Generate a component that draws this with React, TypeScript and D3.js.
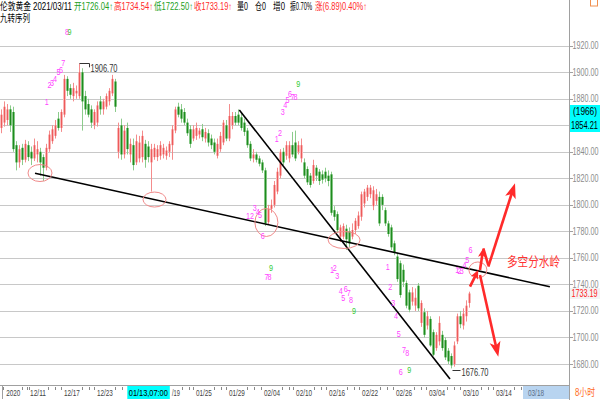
import React from "react";
import * as d3 from "d3";

// ---------- data ----------
// candles: [open, high, low, close] (8-hour bars)
const seg1: [number, number, number, number][] = [
  [1858,1872,1854,1868],[1862,1878,1859,1874],[1864,1876,1860,1872],[1872,1875,1855,1860],
  [1870,1874,1840,1842],[1845,1848,1826,1832],[1832,1845,1828,1842],[1843,1846,1830,1834],
  [1834,1849,1832,1846],[1845,1848,1833,1836],[1840,1844,1830,1835],[1835,1850,1833,1845],
  [1838,1848,1832,1842],[1840,1843,1822,1832],[1836,1838,1818,1828],[1828,1846,1826,1843],
  [1842,1856,1840,1853],[1848,1860,1846,1857],[1852,1864,1850,1860],[1865,1870,1856,1858],
  [1858,1872,1855,1870],[1868,1898,1866,1895],[1895,1897,1882,1886],[1888,1891,1880,1883],
  [1882,1892,1878,1888],[1884,1890,1880,1886],[1882,1906.7,1880,1900],[1900,1903,1856,1878],
  [1882,1886,1868,1872],[1876,1880,1866,1868],[1872,1875,1858,1862],[1860,1872,1857,1870],
  [1862,1878,1859,1875],[1878,1882,1868,1872],[1872,1880,1868,1878],[1874,1884,1872,1882],
  [1878,1888,1875,1886],[1884,1898,1882,1895],[1893,1895,1870,1874],[1840,1862,1835,1858],
  [1860,1865,1834,1838],[1838,1860,1835,1856],[1858,1862,1838,1842],[1838,1850,1832,1846],
  [1845,1850,1826,1830],[1832,1853,1830,1848],[1835,1852,1832,1847],[1836,1856,1832,1852],
  [1846,1849,1828,1834],[1844,1848,1832,1836],[1832,1846,1810,1842],[1836,1846,1834,1843],
];
const seg2: [number, number, number, number][] = [
  [1836,1845,1833,1842],[1837,1848,1834,1845],[1838,1846,1835,1843],[1837,1844,1834,1841],
  [1840,1848,1836,1846],[1845,1860,1834,1857],[1856,1874,1854,1872],[1874,1877,1866,1868],
  [1872,1876,1862,1865],[1870,1873,1860,1862],[1862,1865,1852,1854],[1857,1860,1843,1846],
  [1850,1860,1848,1857],[1852,1862,1849,1858],[1853,1858,1850,1856],[1857,1861,1848,1851],
  [1850,1858,1847,1855],[1854,1857,1844,1847],[1850,1853,1842,1845],[1847,1850,1838,1840],
  [1837,1850,1835,1846],[1842,1855,1840,1852],[1847,1864,1845,1862],[1860,1864,1848,1850],
  [1850,1876,1848,1867],[1860,1870,1857,1867],[1867,1870,1860,1862],[1868,1872,1860,1862],
  [1866,1869,1856,1858],[1862,1865,1852,1855],[1856,1858,1843,1845],[1846,1848,1833,1835],
  [1835,1842,1832,1838],[1838,1840,1832,1834],[1835,1837,1829,1831],[1832,1834,1824,1826],
  [1826,1828,1784,1786],[1787,1800,1785,1797],[1797,1804,1794,1800],[1800,1818,1798,1815],
  [1810,1828,1808,1825],[1822,1842,1820,1840],[1840,1843,1830,1832],[1837,1848,1834,1845],
  [1835,1848,1832,1845],[1845,1855,1836,1838],[1847,1856,1833,1835],[1840,1848,1838,1845],
  [1835,1850,1832,1845],[1832,1835,1820,1822],[1827,1829,1815,1817],[1822,1824,1813,1815],
  [1818,1834,1816,1830],[1828,1830,1818,1822],
];
const seg3: [number, number, number, number][] = [
  [1825,1827,1815,1818],[1823,1826,1816,1819],[1825,1828,1817,1820],[1822,1826,1814,1818],
  [1823,1825,1792,1794],[1796,1799,1788,1791],[1793,1795,1779,1781],[1776,1785,1772,1783],
  [1776,1786,1774,1784],[1782,1785,1766,1774],[1780,1783,1768,1771],[1776,1786,1774,1781],
  [1781,1790,1778,1788],[1784,1795,1782,1792],[1791,1810,1788,1808],[1801,1812,1798,1810],
  [1806,1815,1803,1813],[1808,1815,1805,1813],[1799,1814,1796,1811],[1803,1812,1800,1808],
  [1806,1810,1784,1786],[1806,1808,1796,1800],[1796,1798,1784,1786],[1786,1788,1776,1778],
  [1783,1785,1766,1768],[1771,1773,1762,1764],[1761,1764,1742,1744],[1756,1758,1730,1732],
  [1751,1755,1738,1742],[1741,1743,1722,1724],[1734,1736,1719,1721],[1727,1738,1724,1734],
  [1724,1737,1720,1730],[1739,1741,1720,1722],[1711,1728,1708,1726],[1719,1722,1700,1702],
  [1709,1720,1706,1716],[1714,1716,1693,1694],[1704,1706,1686,1687],[1692,1704,1690,1702],
  [1697,1716,1694,1711],[1702,1705,1690,1692],[1698,1700,1683,1685],[1690,1692,1680,1682],
  [1686,1688,1676.7,1679],[1680,1697,1678,1694],[1697,1718,1695,1716],[1716,1720,1707,1710],
  [1709,1722,1706,1718],[1716,1728,1712,1724],[1726.04,1734.54,1722.5,1733.19],
];
const candles = [...seg1, ...seg2, ...seg3];

const yTicks = [1680, 1700, 1720, 1740, 1760, 1780, 1800, 1820, 1840, 1860, 1880, 1900, 1920];
const yTickLabels = ["1680.00","1700.00","1720.00","1740.00","1760.00","1780.00","1800.00","1820.00","1840.00","1860.00","1880.00","1900.00","1920.00"];

const xLabels = ["2020","12/11","12/17","12/23","/19","01/25","01/29","02/04","02/10","02/16","02/22","02/26","03/04","03/10","03/14"];
const xLabelIdx = [0.6, 9.5, 20.8, 31.8, 56.8, 64.8, 75.8, 87.5, 98.2, 109.2, 120.2, 131.5, 142.5, 153.8, 164.8];
const cursorLabel = "01/13,07:00";
const cursorIdx = 42.1;
const lastLabel = "03/18";
const lastLabelIdx = 175.5;

// trend lines [idx0, price0, idx1, price1]
const trendLines: [number, number, number, number][] = [
  [11.17, 1823.8, 182.8, 1738.3],
  [79.27, 1871.5, 149.5, 1668.7],
];
// red ellipses: centre idx, centre price
const ringIdx = [12.83, 51, 88.3, 114.2, 158.8];
const ringPrice = [1824.0, 1804.0, 1786.7, 1773.5, 1750.9];
const ringRx = [12, 11.5, 11.5, 16, 9];
const ringRy = [8.5, 7.5, 14, 8.5, 8];

// red arrows [idx0, price0, idx1, price1, head]
const arrows: [number, number, number, number, number][] = [
  [156.17, 1738.3, 158.93, 1750.9, 1],
  [159.5, 1750.9, 160.6, 1767.2, 1],
  [160.6, 1767.2, 162.27, 1754.6, 0],
  [162.27, 1753.4, 171.17, 1816.3, 2],
  [159.5, 1747.1, 165.6, 1685.5, 2],
];

// 九转序列 numbers
const tdText = ["8","9","7","5","6","2","3","4","1",
  "3","4","5","6","7","8","9","1","2",
  "1","2","3","4","5","6","9","7","8",
  "1","2","3","4","5","6","7","8","9",
  "1","2","3","4","5","7","8","6","9",
  "1","2","3","4","5","6"];
const tdIdx = [21.83,22.67,20.6,19,19.83,16,16.83,17.83,15.07,
  93.73,94.6,95.33,96.17,97,98,98.93,91.73,92.83,
  82.17,83.5,84.4,85.4,86.17,87.07,89.83,88.33,89.33,
  110.17,111.07,111.93,113.07,113.93,114.73,115.73,116.5,117.5,
  128.73,129.6,130.6,131.5,132.4,134.17,135.27,133.07,135.93,
  151.93,152.67,153.43,154.33,155.27,156.33];
const tdPrice = [1930.6,1930.6,1907.2,1900.9,1901.7,1890.4,1891.9,1894.9,1877.6,
  1870.2,1875.3,1879.4,1884.3,1881.7,1881.7,1891.7,1850.2,1854.4,
  1791.6,1791.6,1797.9,1794.8,1793.1,1777.0,1752.4,1745.6,1745.6,
  1750.9,1752.4,1746.4,1735.3,1729.8,1736.6,1733.8,1728.3,1720.2,
  1753.4,1738.3,1726.5,1716.9,1703.1,1691.1,1688.5,1674.0,1676.2,
  1750.9,1750.5,1750.5,1755.4,1758.8,1766.5];

const headerParts = [
  { t: "伦敦黄金", c: "#000" }, { t: "2021/03/11", c: "#000" },
  { t: "开1726.04↑", c: "#22a022" }, { t: "高1734.54↑", c: "#ff2a2a" },
  { t: "低1722.50↑", c: "#22a022" }, { t: "收1733.19↑", c: "#ff2a2a" },
  { t: "量0", c: "#000" }, { t: "仓0", c: "#000" }, { t: "增0", c: "#000" },
  { t: "振0.70%", c: "#000" }, { t: "涨(6.89)0.40%↑", c: "#ff2a2a" },
];
const headerX = [0, 33, 74, 114, 154, 194, 237, 255, 273, 290, 315];
const headerW = [31, 39, 39, 39, 39, 38, 11, 11, 12, 22, 52];

const FONT = "'Liberation Sans', 'Noto Sans CJK SC', sans-serif";
const RIGHT = 569;

export default function App() {
  const n = candles.length;
  const x = d3.scaleLinear().domain([0, n - 1]).range([1.5, 1.5 + 3 * (n - 1)]);
  const y = d3.scaleLinear().domain([1680, 1920]).range([364, 45.7]);
  const crisp = (v: number) => Math.round(v) + 0.5;

  const arrowPath = (x0: number, y0: number, x1: number, y1: number, size: number) => {
    const ang = Math.atan2(y1 - y0, x1 - x0);
    const L = size === 2 ? 15 : 9;
    const Wd = size === 2 ? 5.5 : 4;
    const bx = x1 - L * Math.cos(ang), by = y1 - L * Math.sin(ang);
    const px = -Math.sin(ang), py = Math.cos(ang);
    return `M${x1},${y1}L${bx + px * Wd},${by + py * Wd}L${bx + (x1 - bx) * 0.25},${by + (y1 - by) * 0.25}L${bx - px * Wd},${by - py * Wd}Z`;
  };

  const lowIdx = candles.findIndex((c) => c[2] === 1676.7);
  const highIdx = candles.findIndex((c) => c[1] === 1906.7);

  return (
    <svg width={600} height={400} style={{ position: "absolute", left: 0, top: 0, background: "#fff", fontFamily: FONT }}>
      <defs>
        <clipPath id="plot"><rect x={0} y={0} width={RIGHT} height={385} /></clipPath>
      </defs>
      <rect x={0} y={0} width={600} height={400} fill="#fff" />
      {/* grid */}
      {yTicks.map((v) => (
        <line key={v} x1={0} x2={RIGHT} y1={crisp(y(v))} y2={crisp(y(v))} stroke="#c8c8c8" strokeWidth={1} />
      ))}
      <g clipPath="url(#plot)">
        {/* candles */}
        {candles.map(([o, h, l, c], i) => {
          const up = c >= o;
          const cx = x(i);
          const top = y(Math.max(o, c));
          const bot = y(Math.min(o, c));
          return (
            <g key={i}>
              {up ? (
                <>
                  <line x1={cx} x2={cx} y1={y(h)} y2={y(l)} stroke="#f48c8c" strokeWidth={1} />
                  <rect x={cx - 1.5} y={top} width={3} height={Math.max(1, bot - top)} fill="#f8b8b8" />
                  <line x1={cx} x2={cx} y1={top} y2={top + Math.max(1, bot - top)} stroke="#ee5a5a" strokeWidth={1} />
                </>
              ) : (
                <>
                  <line x1={cx} x2={cx} y1={y(h)} y2={y(l)} stroke="#8ccc8c" strokeWidth={1} />
                  <rect x={cx - 1.5} y={top} width={3} height={Math.max(1, bot - top)} fill="#9ed49e" />
                  <line x1={cx} x2={cx} y1={top} y2={top + Math.max(1, bot - top)} stroke="#1e8c1e" strokeWidth={1.4} />
                </>
              )}
            </g>
          );
        })}
        {/* high / low marks */}
        <path d={`M${x(highIdx)},${crisp(y(1906.7))}H${x(highIdx) + 10}V${y(1906.7) + 4}`} fill="none" stroke="#333" strokeWidth={1} />
        <text x={x(highIdx) + 11} y={y(1906.7) + 9} fontSize={10} fill="#333" textLength={27} lengthAdjust="spacingAndGlyphs">1906.70</text>
        <path d={`M${x(lowIdx) + 1},${crisp(y(1676.7)) + 2}H${x(lowIdx) + 9}`} fill="none" stroke="#333" strokeWidth={1} />
        <text x={x(lowIdx) + 10} y={y(1676.7) + 8} fontSize={10} fill="#333" textLength={27} lengthAdjust="spacingAndGlyphs">1676.70</text>
        {/* trend lines */}
        {trendLines.map(([i0, p0, i1, p1], k) => (
          <line key={k} x1={x(i0)} y1={y(p0)} x2={x(i1)} y2={y(p1)} stroke="#000" strokeWidth={1.6} />
        ))}
        {/* rings */}
        {ringIdx.map((ri, k) => (
          <ellipse key={k} cx={x(ri)} cy={y(ringPrice[k])} rx={ringRx[k]} ry={ringRy[k]} fill="none" stroke="#f08a8a" strokeWidth={1} />
        ))}
        {/* TD numbers */}
        {tdText.map((t, k) => (
          <text key={k} x={x(tdIdx[k])} y={y(tdPrice[k]) + 3.5} fontSize={9} textAnchor="middle"
            fill={t === "9" ? "#33cc33" : "#ff44ff"} textLength={4} lengthAdjust="spacingAndGlyphs">{t}</text>
        ))}
        {/* arrows */}
        {arrows.map(([i0, p0, i1, p1, hd], k) => {
          const x0 = x(i0), y0 = y(p0), x1 = x(i1), y1 = y(p1);
          const ang = Math.atan2(y1 - y0, x1 - x0);
          const back = hd === 2 ? 10 : hd === 1 ? 6 : 0;
          return (
            <g key={k}>
              <line x1={x0} y1={y0} x2={x1 - back * Math.cos(ang)} y2={y1 - back * Math.sin(ang)} stroke="#ff2a2a" strokeWidth={2.6} />
              {hd > 0 && <path d={arrowPath(x0, y0, x1, y1, hd)} fill="#ff2a2a" />}
            </g>
          );
        })}
        <text x={x(168.5)} y={y(1753.9)} fontSize={13} fill="#ff3333" textLength={53} lengthAdjust="spacingAndGlyphs">多空分水岭</text>
      </g>

      {/* header */}
      {headerParts.map((p, k) => (
        <text key={k} x={headerX[k]} y={9.5} fontSize={10} fill={p.c} textLength={headerW[k]} lengthAdjust="spacingAndGlyphs">{p.t}</text>
      ))}
      <text x={0} y={21.5} fontSize={10} fill="#000" textLength={30} lengthAdjust="spacingAndGlyphs">九转序列</text>

      {/* right axis */}
      <line x1={RIGHT + 0.5} x2={RIGHT + 0.5} y1={0} y2={400} stroke="#a0a0a0" strokeWidth={1} />
      {yTicks.map((v, k) => (
        <g key={v}>
          <line x1={RIGHT} x2={RIGHT + 4} y1={crisp(y(v))} y2={crisp(y(v))} stroke="#a0a0a0" />
          <text x={RIGHT + 3.5} y={y(v) + 3.5} fontSize={10} fill="#8c8c8c" textLength={26} lengthAdjust="spacingAndGlyphs">{yTickLabels[k]}</text>
        </g>
      ))}
      <rect x={RIGHT + 1} y={105} width={31} height={27} fill="#00ffff" />
      <text x={585} y={115} fontSize={10} fill="#000" textAnchor="middle" textLength={24} lengthAdjust="spacingAndGlyphs">(1966)</text>
      <text x={571} y={129} fontSize={10} fill="#000" textLength={27} lengthAdjust="spacingAndGlyphs">1854.21</text>
      <rect x={RIGHT + 1} y={y(1733.19) - 5.5} width={31} height={11} fill="#f3f3f3" />
      <text x={571.5} y={y(1733.19) + 3.5} fontSize={10} fill="#ff2020" textLength={26} lengthAdjust="spacingAndGlyphs">1733.19</text>
      <rect x={590.5} y={-1} width={7} height={7} fill="none" stroke="#f09050" strokeWidth={1} />

      {/* bottom axis */}
      <line x1={0} x2={RIGHT} y1={385.5} y2={385.5} stroke="#a0a0a0" />
      <line x1={2.5} x2={2.5} y1={386} y2={399} stroke="#a0a0a0" />
      {xLabels.map((lb, k) => {
        const lx = x(xLabelIdx[k]) + (k === 0 ? 3 : 0);
        const w = lb.length === 4 ? 14 : lb.length === 3 ? 8 : 16;
        return (
          <g key={k}>
            {k !== 4 && <line x1={crisp(lx - 3)} x2={crisp(lx - 3)} y1={387} y2={390} stroke="#888" />}
            <line x1={crisp(lx + w + 2)} x2={crisp(lx + w + 2)} y1={387} y2={390} stroke="#888" />
            <line x1={crisp(lx + w + 9)} x2={crisp(lx + w + 9)} y1={387} y2={390} stroke="#888" />
            <text x={lx} y={396} fontSize={9.5} fill="#444" textLength={w} lengthAdjust="spacingAndGlyphs">{lb}</text>
          </g>
        );
      })}
      <rect x={x(cursorIdx) - 0.5} y={386} width={42.5} height={13} fill="#00ffff" />
      <text x={x(cursorIdx) + 1} y={396} fontSize={9.5} fill="#000" textLength={39} lengthAdjust="spacingAndGlyphs">{cursorLabel}</text>
      <rect x={523} y={386} width={RIGHT - 523} height={13} fill="#b8d4f0" />
      <text x={x(lastLabelIdx)} y={396} fontSize={9.5} fill="#5a6f88" textLength={16} lengthAdjust="spacingAndGlyphs">{lastLabel}</text>
      <text x={575} y={396} fontSize={10} fill="#ff6a1a" textLength={20} lengthAdjust="spacingAndGlyphs">8小时</text>
    </svg>
  );
}
